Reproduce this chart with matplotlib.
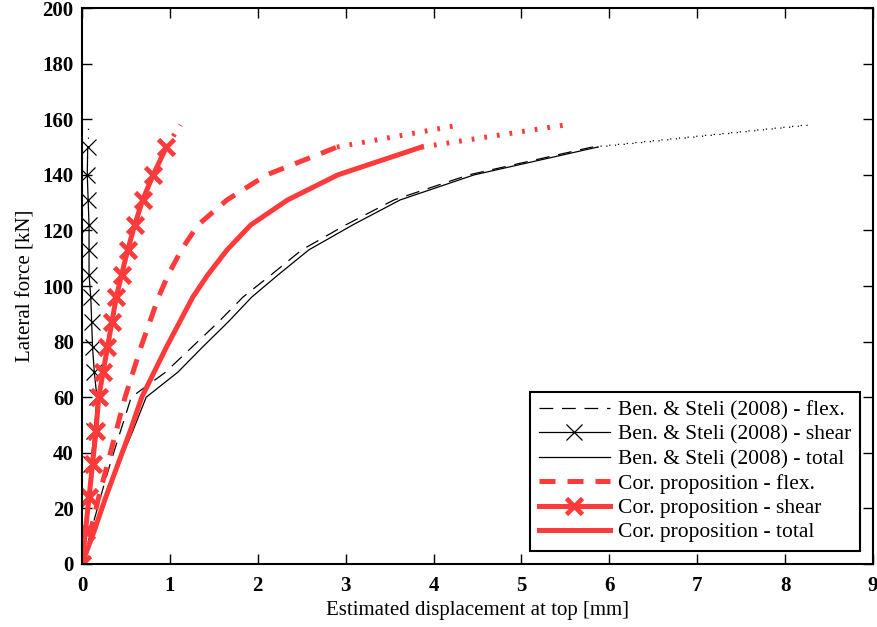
import numpy as np
import matplotlib.pyplot as plt

plt.rcParams['font.family'] = ['Liberation Serif', 'DejaVu Serif']

# lateral force levels [kN]
force = [0, 12, 24, 36, 48, 60, 69, 78, 87, 96, 104, 113, 122, 131, 140, 150]

# Ben. & Steli (2008) displacements [mm]
ben_flex = [0, 0.105, 0.21, 0.32, 0.44, 0.56, 0.95, 1.25, 1.55, 1.83, 2.15, 2.5, 3.0, 3.55, 4.4, 5.8]
ben_shear = [0, 0.035, 0.07, 0.10, 0.14, 0.17, 0.14, 0.12, 0.11, 0.10, 0.08, 0.08, 0.08, 0.07, 0.06, 0.065]
ben_total = [0, 0.14, 0.28, 0.42, 0.58, 0.73, 1.09, 1.37, 1.66, 1.93, 2.23, 2.58, 3.08, 3.62, 4.46, 5.865]

# Cor. proposition displacements [mm]
cor_flex = [0, 0.10, 0.19, 0.29, 0.39, 0.49, 0.58, 0.67, 0.77, 0.87, 0.98, 1.13, 1.32, 1.65, 2.1, 2.9]
cor_shear = [0, 0.04, 0.08, 0.12, 0.16, 0.19, 0.24, 0.29, 0.34, 0.39, 0.45, 0.52, 0.60, 0.69, 0.81, 0.96]
cor_total = [0, 0.14, 0.27, 0.41, 0.55, 0.68, 0.82, 0.96, 1.11, 1.26, 1.43, 1.65, 1.92, 2.34, 2.91, 3.86]

# dotted extension up to ultimate force
force_u = 158
ext = {'ben_flex': 8.25, 'ben_shear': 0.065, 'ben_total': 8.3,
       'cor_flex': 4.3, 'cor_shear': 1.12, 'cor_total': 5.5}

red = '#ff3a3a'

fig = plt.figure(figsize=(8.77, 6.27), dpi=100)
ax = fig.add_axes([0.0935, 0.1005, 0.902, 0.8865])

ax.plot(ben_flex, force, color='k', lw=0.9, dashes=(11, 7),
        label='Ben. & Steli (2008) - flex.')
ax.plot(ben_shear, force, color='k', lw=0.9, marker='x', ms=11, mew=0.9,
        label='Ben. & Steli (2008) - shear')
ax.plot(ben_total, force, color='k', lw=0.9,
        label='Ben. & Steli (2008) - total')
ax.plot(cor_flex, force, color=red, lw=3.6, dashes=(3.2, 2.4),
        label='Cor. proposition - flex.')
ax.plot(cor_shear, force, color=red, lw=3.6, marker='x', ms=12, mew=3.4,
        label='Cor. proposition - shear')
ax.plot(cor_total, force, color=red, lw=3.6,
        label='Cor. proposition - total')

# dotted extensions
for key, xs in [('ben_flex', ben_flex), ('ben_shear', ben_shear), ('ben_total', ben_total)]:
    ax.plot([xs[-1], ext[key]], [force[-1], force_u], color='k', lw=0.9,
            dashes=(1, 6), label='_nolegend_')
for key, xs in [('cor_flex', cor_flex), ('cor_shear', cor_shear), ('cor_total', cor_total)]:
    ax.plot([xs[-1], ext[key]], [force[-1], force_u], color=red, lw=3.6,
            dashes=(0.55, 2.0), label='_nolegend_')

ax.set_xlim(0, 9)
ax.set_ylim(0, 200)
ax.set_xticks(np.arange(0, 10, 1))
ax.set_yticks(np.arange(0, 201, 20))
ax.tick_params(direction='in', length=7, width=1, top=True, right=True,
               labelsize=15)
ax.tick_params(axis='x', pad=9)
ax.tick_params(axis='y', pad=6)
for lab in ax.get_xticklabels() + ax.get_yticklabels():
    lab.set_fontweight('bold')
for s in ax.spines.values():
    s.set_linewidth(1.5)

ax.set_xlabel('Estimated displacement at top [mm]', fontsize=15, labelpad=3)
ax.set_ylabel('Lateral force [kN]', fontsize=15, labelpad=5)

leg = ax.legend(loc='lower right', fontsize=15.5, handlelength=3.3,
                labelspacing=0.2, borderpad=0.4, handletextpad=0.4,
                fancybox=False, framealpha=1, borderaxespad=0.6)
leg.get_frame().set_edgecolor('k')
leg.get_frame().set_linewidth(1.5)

plt.savefig('out.png', dpi=100)
